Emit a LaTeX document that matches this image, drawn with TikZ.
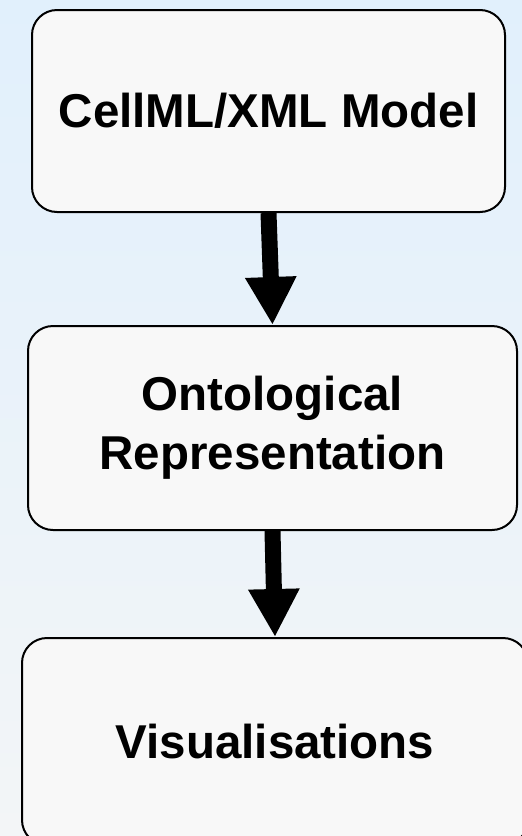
\documentclass[tikz,border=0pt]{standalone}
\usepackage{fontspec}
\setmainfont{Liberation Sans}
\usepackage{tikz}
\usetikzlibrary{arrows.meta}

\definecolor{bgtop}{HTML}{E1F0FC}
\definecolor{bgbottom}{HTML}{F3F5F7}
\definecolor{boxfill}{HTML}{F8F8F8}

\begin{document}
\begin{tikzpicture}[x=1pt, y=-1pt,
    stage/.style={draw, line width=2pt, fill=boxfill, rounded corners=25pt, inner sep=0pt, align=center,
                  font=\bfseries\fontsize{47.5}{59}\selectfont},
    flow/.style={line width=16pt, -{Triangle[width=48pt, length=48pt]}}]
    \path[use as bounding box, top color=bgtop, bottom color=bgbottom] (0,0) rectangle (522,836);
    \clip (0,0) rectangle (522,836);
    \node[stage, minimum width=473pt, minimum height=202pt] (cellml) at (268.5,111) {CellML/XML Model};
    \node[stage, minimum width=489pt, minimum height=204pt] (onto) at (272.5,428) {Ontological\\Representation};
    \node[stage, minimum width=506pt, minimum height=207pt] (vis) at (275,741.5) {Visualisations};
    \draw[flow] (cellml.south)--(onto.north);
    \draw[flow] (onto.south)--(vis.north);
  \end{tikzpicture}
\end{document}
